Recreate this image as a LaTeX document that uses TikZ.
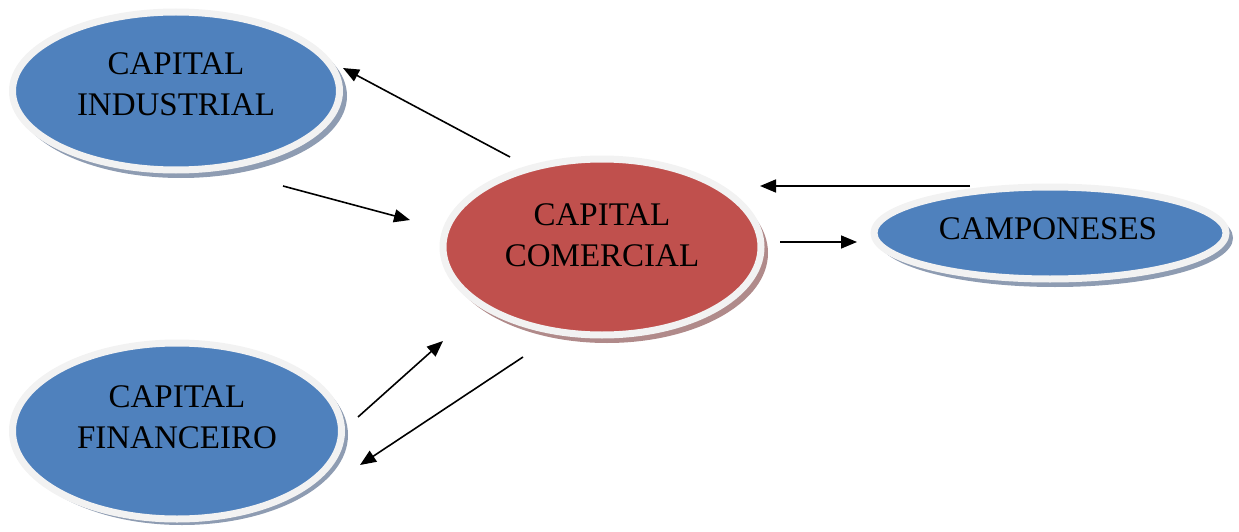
\documentclass[tikz,border=0pt]{standalone}
\usepackage{fontspec}
\setmainfont{Liberation Serif}
\usetikzlibrary{arrows.meta,shapes.geometric}
\definecolor{accblue}{HTML}{4F81BD}
\definecolor{accred}{HTML}{C0504D}
\definecolor{ringgray}{HTML}{F2F2F2}
\definecolor{shblue}{HTML}{8E9CB2}
\definecolor{shred}{HTML}{B08A8A}
\tikzset{
  txt/.style={font=\fontsize{33}{41}\selectfont, align=center, text=black},
  conn/.style={line width=1.6pt, -{Triangle[length=16pt,width=13pt]}},
  bub/.style={draw=ringgray, line width=7pt, ellipse, inner sep=0pt},
}
\begin{document}
\begin{tikzpicture}[x=1pt,y=-1pt]
\useasboundingbox (0,0) rectangle (1239,532);
% shadows
\fill[shblue] (181,96) ellipse [x radius=166, y radius=82];
\fill[shred] (607,253) ellipse [x radius=161, y radius=90];
\fill[shblue] (1055,238) ellipse [x radius=178, y radius=49];
\fill[shblue] (182,435) ellipse [x radius=166, y radius=90];
% ellipses
\node[bub, fill=accblue, minimum width=327pt, minimum height=158pt] (ind) at (176,91) {};
\node[bub, fill=accred, minimum width=318pt, minimum height=176pt] (com) at (602,247) {};
\node[bub, fill=accblue, minimum width=352pt, minimum height=92pt] (cam) at (1050,233) {};
\node[bub, fill=accblue, minimum width=329pt, minimum height=176pt] (fin) at (177,431) {};
% texts
\node[txt] (tind) at (176,84) {CAPITAL\\INDUSTRIAL};
\node[txt] (tcom) at (602,235) {CAPITAL\\COMERCIAL};
\node[txt] (tcam) at (1048,229) {CAMPONESES};
\node[txt] (tfin) at (177,417) {CAPITAL\\FINANCEIRO};
% connector endpoints
\coordinate (a1) at (510,157); \coordinate (b1) at (343,68);
\coordinate (a2) at (283,186); \coordinate (b2) at (410,220);
\coordinate (a3) at (970,186); \coordinate (b3) at (760,186);
\coordinate (a4) at (780,242); \coordinate (b4) at (857,242);
\coordinate (a5) at (358,417); \coordinate (b5) at (443,341);
\coordinate (a6) at (523,357); \coordinate (b6) at (360,465);
\draw[conn] (a1) -- (b1);
\draw[conn] (a2) -- (b2);
\draw[conn] (a3) -- (b3);
\draw[conn] (a4) -- (b4);
\draw[conn] (a5) -- (b5);
\draw[conn] (a6) -- (b6);
\end{tikzpicture}
\end{document}
